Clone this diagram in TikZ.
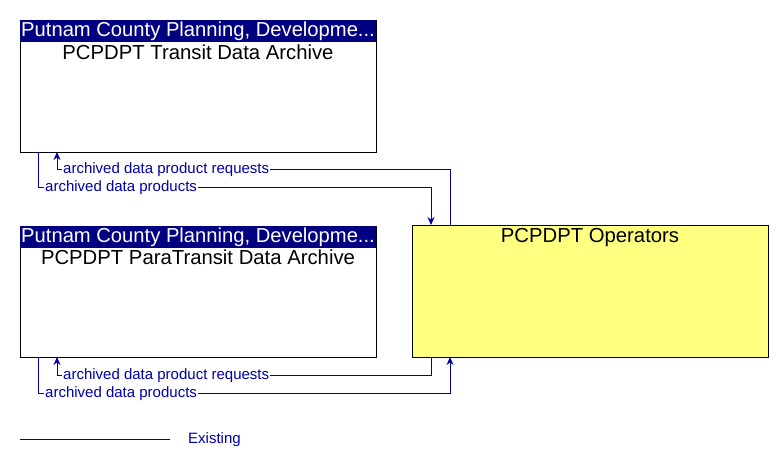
\documentclass[tikz,border=0pt]{standalone}
\usepackage{fontspec}
\setmainfont{Liberation Sans}
\usetikzlibrary{arrows.meta}
\definecolor{hdr}{RGB}{0,0,128}
\definecolor{ln}{RGB}{0,0,168}
\definecolor{yel}{RGB}{255,255,128}
\tikzset{
  box/.style={draw=black, line width=0.8pt, anchor=north west, inner sep=0pt},
  hdrtxt/.style={text=white, font=\fontsize{20.2}{22}\selectfont, anchor=west, inner sep=0pt},
  title/.style={font=\fontsize{20.3}{22}\selectfont, anchor=north, inner sep=0pt},
  flow/.style={draw=ln, line width=1pt, -{Stealth[length=8pt,width=7pt]}},
  lbl/.style={font=\fontsize{15}{17}\selectfont, text=ln, inner sep=1pt, fill=white, anchor=west}
}
\begin{document}
\begin{tikzpicture}[x=1pt,y=-1pt]
\useasboundingbox (0,0) rectangle (782,466);
% box 1
\node[box, minimum width=356pt, minimum height=132pt] (b1) at (20,20) {};
\fill[hdr] (20,20) rectangle (376,42);
\node[hdrtxt] (h1) at (21,31.5) {Putnam County Planning, Developme...};
\node[title] (t1) at (198,45) {PCPDPT Transit Data Archive};
% box 2
\node[box, minimum width=356pt, minimum height=131pt] (b2) at (20,226) {};
\fill[hdr] (20,226) rectangle (376,248);
\node[hdrtxt] (h2) at (21,237.5) {Putnam County Planning, Developme...};
\node[title] (t2) at (198,250) {PCPDPT ParaTransit Data Archive};
% operators
\node[box, fill=yel, minimum width=356pt, minimum height=132pt] (op) at (412,225) {};
\node[title] (t3) at (590,228) {PCPDPT Operators};
% flows top
\coordinate (a1) at (450,225);
\coordinate (a2) at (57,152);
\draw[flow] (a1) -- (450,169) -- (57,169) -- (a2);
\node[lbl] (l1) at (62,170) {archived data product requests};
\coordinate (c1) at (38,152);
\coordinate (c2) at (431,225);
\draw[flow] (c1) -- (38,187) -- (431,187) -- (c2);
\node[lbl] (l2) at (44,188) {archived data products};
% flows bottom
\coordinate (d1) at (431,357);
\coordinate (d2) at (57,357);
\draw[flow] (d1) -- (431,375) -- (57,375) -- (d2);
\node[lbl] (l3) at (62,376) {archived data product requests};
\coordinate (e1) at (38,357);
\coordinate (e2) at (450,357);
\draw[flow] (e1) -- (38,393) -- (450,393) -- (e2);
\node[lbl] (l4) at (44,394) {archived data products};
% legend
\coordinate (g1) at (20,439);
\coordinate (g2) at (170,439);
\draw[draw=ln, line width=1pt] (g1) -- (g2);
\node[font=\fontsize{15}{17}\selectfont, text=ln, anchor=west, inner sep=0pt] (lg) at (188,440) {Existing};
\end{tikzpicture}
\end{document}
